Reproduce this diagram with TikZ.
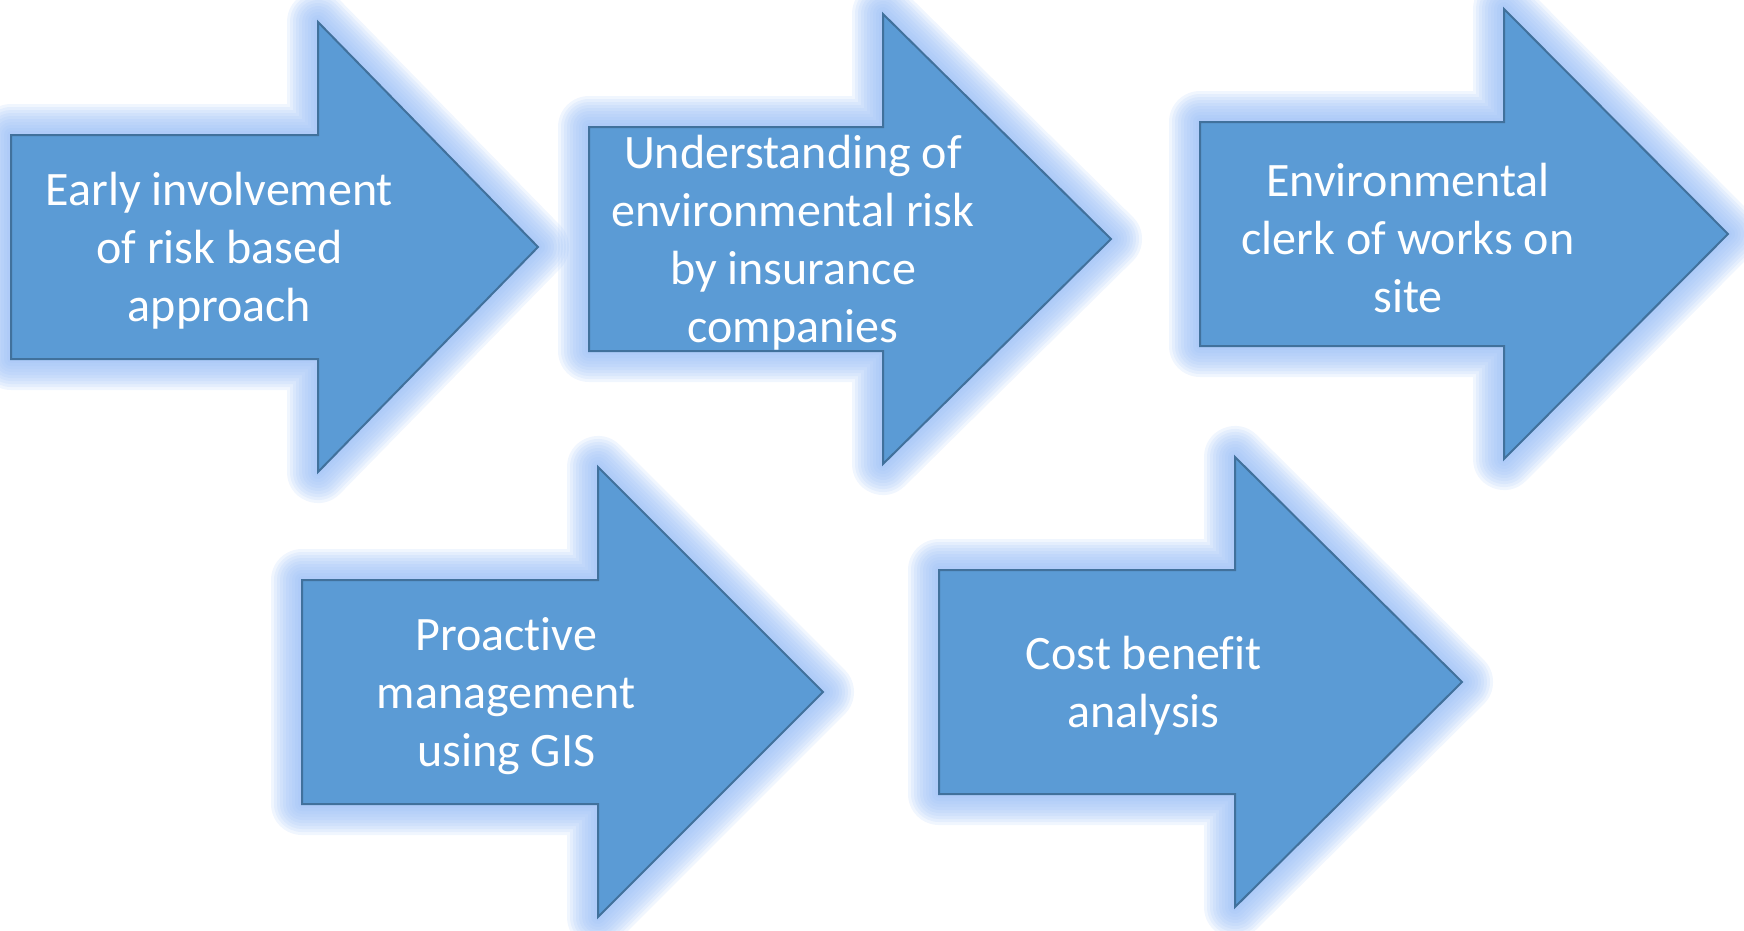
\documentclass[tikz,border=0pt]{standalone}
\usepackage{fontspec}
\setmainfont{Carlito}[Ligatures=NoCommon]
\usetikzlibrary{calc}

\definecolor{arrowfill}{HTML}{5B9BD5}
\definecolor{arrowline}{HTML}{41719C}
\definecolor{glowblue}{HTML}{98BDF6}

\tikzset{
	glowstep/.style={preaction={draw=glowblue, line join=round, line width=#1pt, opacity=.14}},
	glowing/.style={glowstep/.list={62,56,...,8}},
	flowbox/.style={fill=arrowfill, draw=arrowline, line width=2pt, glowing},
	steptext/.style={text=white, align=center, inner sep=0pt,
		font=\fontsize{48}{58}\selectfont}
}

% #1 name, #2 tail x, #3 neck x, #4 tip x, #5 middle y, #6 text
\newcommand{\flowarrow}[6]{%
	\draw [flowbox] (#2,#5-112) -- (#3,#5-112) -- (#3,#5-225) -- (#4,#5)
		-- (#3,#5+225) -- (#3,#5+112) -- (#2,#5+112) -- cycle;
	\node [steptext] (#1) at ({(#2+#3+(#4-#3)/2)/2},#5+4) {#6};
}

\begin{document}
\begin{tikzpicture}[x=1pt, y=-1pt]
	\useasboundingbox (0,0) rectangle (1744,930);
	% top row
	\flowarrow{early}{11}{318}{538}{247}{Early involvement\\of risk based\\approach}
	\flowarrow{insurers}{589}{883}{1111}{239}{Understanding of\\environmental risk\\by insurance\\companies}
	\flowarrow{clerk}{1200}{1504}{1728}{234}{Environmental\\clerk of works on\\site}
	% bottom row
	\flowarrow{gis}{302}{598}{823}{692}{Proactive\\management\\using GIS}
	\flowarrow{costben}{939}{1235}{1462}{682}{Cost benefit\\analysis}
\end{tikzpicture}
\end{document}
